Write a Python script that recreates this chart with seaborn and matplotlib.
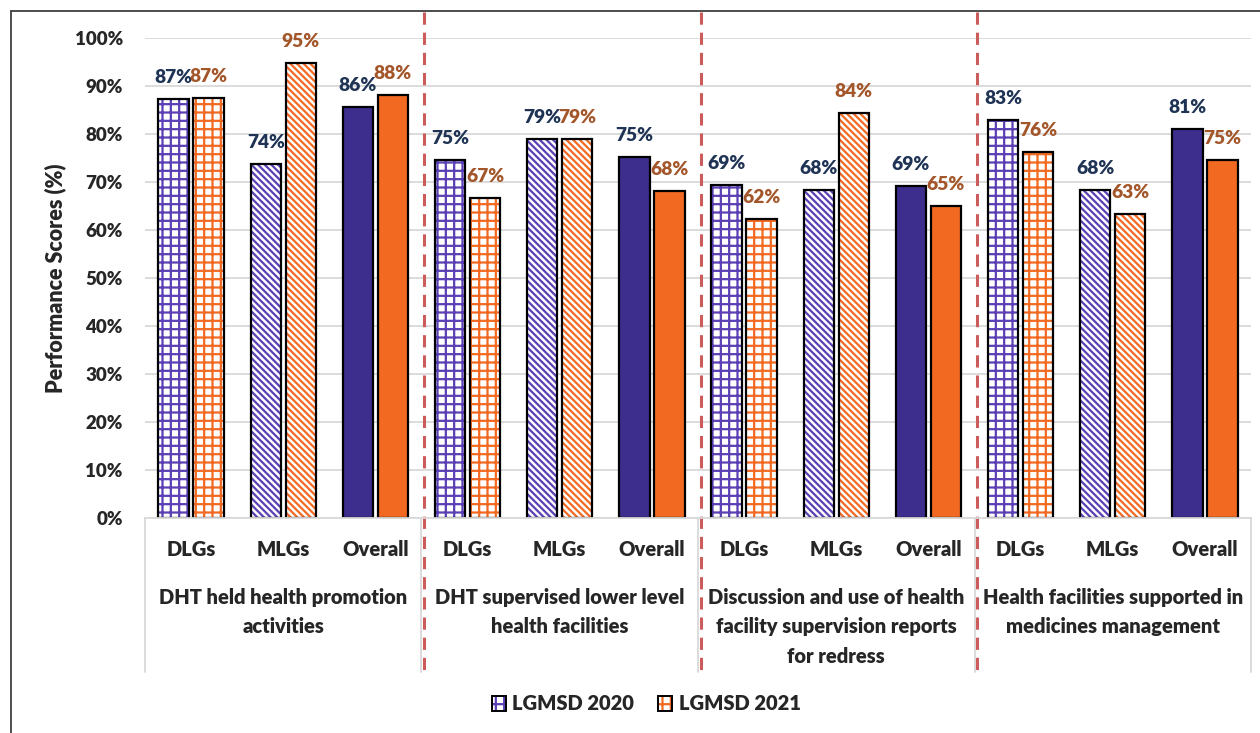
import pandas as pd
import matplotlib.pyplot as plt
import seaborn as sns
from matplotlib.patches import Patch, Rectangle
from matplotlib.lines import Line2D
from matplotlib.ticker import FuncFormatter
import matplotlib.transforms as mtransforms


# chart values
sub_labels = ["DLGs", "MLGs", "Overall"]
group_labels = [
    "DHT held health promotion\nactivities",
    "DHT supervised lower level\nhealth facilities",
    "Discussion and use of health\nfacility supervision reports\nfor redress",
    "Health facilities supported in\nmedicines management",
]
years = ["LGMSD 2020", "LGMSD 2021"]
scores_2020 = [87.3, 73.7, 85.7, 74.6, 79.0, 75.3, 69.4, 68.3, 69.2, 82.9, 68.3, 81.0]
scores_2021 = [87.4, 94.7, 88.2, 66.7, 79.0, 68.1, 62.3, 84.3, 65.0, 76.2, 63.3, 74.6]

bar_colors = {"LGMSD 2020": "#3D2E8E", "LGMSD 2021": "#F26A22"}
hatch_colors = {"LGMSD 2020": "#5A3FB5", "LGMSD 2021": "#F26A22"}
label_colors = {"LGMSD 2020": "#1F3354", "LGMSD 2021": "#A3562A"}
hatches = ["++", "\\\\\\\\\\", ""]
W = "heavy"

plt.rcParams["hatch.linewidth"] = 1.6
sns.set_style("white")
plt.rcParams["font.family"] = ["Lato", "DejaVu Sans"]
plt.rcParams["font.weight"] = W

n = len(scores_2020)
df = pd.DataFrame({
    "pos": list(range(n)) * 2,
    "year": [years[0]] * n + [years[1]] * n,
    "score": scores_2020 + scores_2021,
})

fig = plt.figure(figsize=(12.6, 7.33), dpi=100)
ax = fig.add_axes([145 / 1260, 215 / 733, 1106 / 1260, 480 / 733])

sns.barplot(data=df, x="pos", y="score", hue="year", hue_order=years,
            palette=bar_colors, width=0.76, gap=0.13, legend=False, ax=ax,
            saturation=1, errorbar=None)

for container, year in zip(ax.containers, years):
    for i, bar in enumerate(container):
        kind = i % 3
        if kind < 2:
            bar.set_facecolor("white")
            bar.set_edgecolor(hatch_colors[year])
            bar.set_hatch(hatches[kind])
        bar.set_linewidth(0)
        ax.add_patch(Rectangle(bar.get_xy(), bar.get_width(), bar.get_height(),
                               fill=False, ec="black", lw=1.6, zorder=bar.get_zorder() + 0.1))
        h = bar.get_height()
        ax.annotate(f"{round(h):d}%", (bar.get_x() + bar.get_width() / 2, h),
                    xytext=(0, 15.5), textcoords="offset points",
                    ha="center", va="center", fontsize=13.8, fontweight=W,
                    color=label_colors[year], annotation_clip=False)

ax.set_xlim(-0.5, n - 0.5)
ax.set_ylim(0, 100)
ax.set_yticks(range(0, 101, 10))
ax.yaxis.set_major_formatter(FuncFormatter(lambda v, p: f"{int(v)}%"))
ax.tick_params(axis="y", length=0, pad=16, labelsize=13.5)
ax.set_xticks([])
ax.set_xlabel("")
ax.set_ylabel("Performance Scores (%)", fontsize=15.5, fontweight=W, labelpad=6)
ax.yaxis.grid(True, color="#D9D9D9", lw=1.3)
ax.set_axisbelow(True)
for side in ["top", "right", "left"]:
    ax.spines[side].set_visible(False)
ax.spines["bottom"].set_color("#D9D9D9")
ax.spines["bottom"].set_linewidth(1.3)

trans = mtransforms.blended_transform_factory(ax.transData, ax.transAxes)

# category box below axis
for xb in [-0.5, 2.5, 5.5, 8.5, 11.5]:
    ax.plot([xb, xb], [0, -0.32], color="#D9D9D9", lw=1.3, transform=trans, clip_on=False)
for i in range(n):
    ax.text(i, -0.065, sub_labels[i % 3], transform=trans, ha="center", va="center",
            fontsize=14.5, fontweight=W)
for g, lab in enumerate(group_labels):
    ax.text(3 * g + 1, -0.145, lab, transform=trans, ha="center", va="top",
            fontsize=14.5, fontweight=W, linespacing=1.68)

# red dashed separators
for xb in [2.5, 5.5, 8.5]:
    ax.plot([xb + 0.03, xb + 0.03], [1.0545, -0.327], color="#CC5B5B", lw=2.2,
            dashes=(4, 2.6), transform=trans, clip_on=False)

# legend
handles = []
for year in years:
    handles.append((Patch(facecolor="white", edgecolor=hatch_colors[year], hatch="++", lw=0),
                    Patch(facecolor="none", edgecolor="black", lw=1.4)))
fig.legend(handles, years, loc="center", bbox_to_anchor=(0.513, 1 - 704 / 733), ncol=2,
           frameon=False, handlelength=0.7, handleheight=0.7, handletextpad=0.3,
           columnspacing=1.2, prop={"size": 14.5, "weight": W})

# outer border
fig.add_artist(Line2D([11 / 1260, 11 / 1260], [0, 1 - 11 / 733], color="#404040", lw=1.3,
                      transform=fig.transFigure))
fig.add_artist(Line2D([11 / 1260, 1], [1 - 11 / 733, 1 - 11 / 733], color="#404040", lw=1.3,
                      transform=fig.transFigure))

fig.savefig("out.png", dpi=100)
